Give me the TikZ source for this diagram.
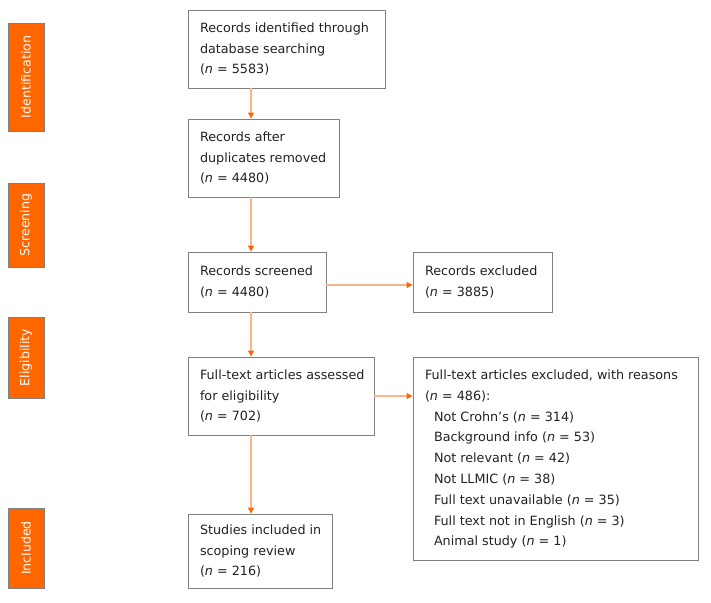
\documentclass[tikz,border=0pt]{standalone}
\usepackage{fontspec}
\setmainfont{DejaVu Sans}
\usetikzlibrary{arrows.meta}
\definecolor{orfill}{HTML}{FF6600}
\definecolor{orline}{HTML}{F9B48A}
\definecolor{boxgray}{HTML}{808080}
\definecolor{txt}{HTML}{222222}
\tikzset{
  flowbox/.style={draw=boxgray, line width=0.9pt, inner xsep=12pt, inner ysep=0pt,
    font=\fontsize{12.75}{20.8}\selectfont, text=txt, anchor=center},
  phase/.style={fill=orfill, draw=boxgray, line width=0.6pt, rotate=90, text=white,
    minimum height=36pt, inner sep=0pt, font=\fontsize{12.6}{14}\selectfont},
  flowarr/.style={draw=orline, line width=1.1pt, -{Triangle[length=6pt,width=6pt,color=orfill]}}
}
\newcommand{\nn}{\textit{n}}
\newcommand{\bxtext}[2]{\makebox[#1][l]{\begin{tabular}{@{}l@{}}#2\end{tabular}}}
\begin{document}
\begin{tikzpicture}[x=1pt,y=-1pt]
\useasboundingbox (0,0) rectangle (711,602);
% phase labels
\node[phase, minimum width=108pt] (pid) at (26,77) {Identification};
\node[phase, minimum width=84pt] (psc) at (26,225) {Screening};
\node[phase, minimum width=81pt] (pel) at (26,357.5) {Eligibility};
\node[phase, minimum width=80pt] (pin) at (26,548) {Included};
% boxes
\node[flowbox, minimum height=78pt] (b1) at (286.5,49)
  {\bxtext{173pt}{Records identified through\\database searching\\(\nn{} = 5583)}};
\node[flowbox, minimum height=78pt] (b2) at (263.5,158)
  {\bxtext{127pt}{Records after\\duplicates removed\\(\nn{} = 4480)}};
\node[flowbox, minimum height=60pt] (b3) at (257,282)
  {\bxtext{114pt}{Records screened\\(\nn{} = 4480)}};
\node[flowbox, minimum height=60pt] (b4) at (482.5,282)
  {\bxtext{115pt}{Records excluded\\(\nn{} = 3885)}};
\node[flowbox, minimum height=78pt] (b5) at (281,396)
  {\bxtext{162pt}{Full-text articles assessed\\for eligibility\\(\nn{} = 702)}};
\node[flowbox, minimum height=203pt] (b6) at (555.5,458.5)
  {\bxtext{261pt}{Full-text articles excluded, with reasons\\(\nn{} = 486):\\
  \hspace*{9pt}Not Crohn’s (\nn{} = 314)\\
  \hspace*{9pt}Background info (\nn{} = 53)\\
  \hspace*{9pt}Not relevant (\nn{} = 42)\\
  \hspace*{9pt}Not LLMIC (\nn{} = 38)\\
  \hspace*{9pt}Full text unavailable (\nn{} = 35)\\
  \hspace*{9pt}Full text not in English (\nn{} = 3)\\
  \hspace*{9pt}Animal study (\nn{} = 1)}};
\node[flowbox, minimum height=74pt] (b7) at (260,551)
  {\bxtext{120pt}{Studies included in\\scoping review\\(\nn{} = 216)}};
% arrows
\coordinate (ax) at (251,0);
\coordinate (ay) at (0,285);
\draw[flowarr] (b1.south -| ax) -- (b2.north -| ax);
\draw[flowarr] (b2.south -| ax) -- (b3.north -| ax);
\draw[flowarr] (b3.south -| ax) -- (b5.north -| ax);
\draw[flowarr] (b5.south -| ax) -- (b7.north -| ax);
\draw[flowarr] (b3.east |- ay) -- (b4.west |- ay);
\draw[flowarr] (b5.east) -- (b6.west |- b5.east);
\end{tikzpicture}
\end{document}
